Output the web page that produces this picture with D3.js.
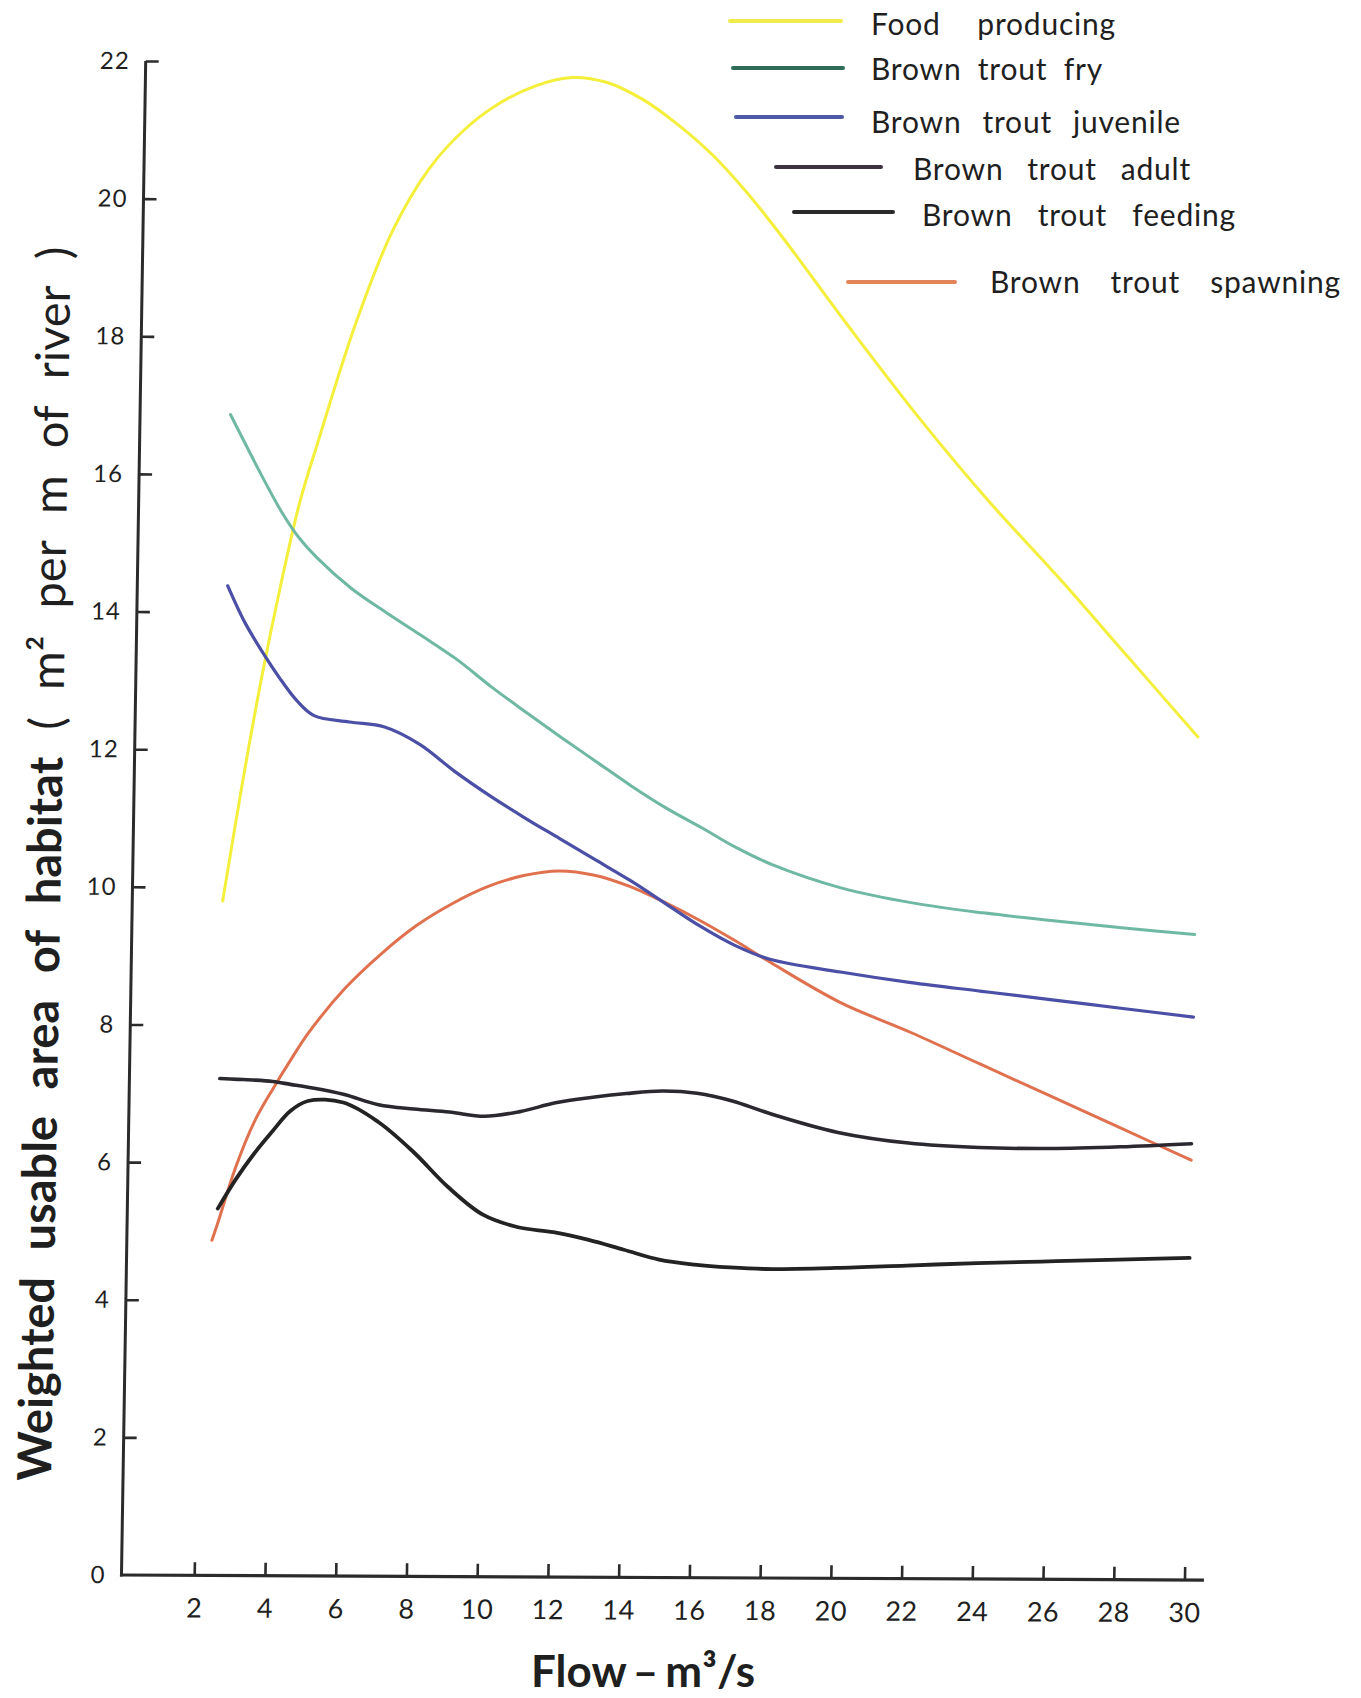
<!DOCTYPE html>
<html>
<head>
<meta charset="utf-8">
<script src="https://cdn.jsdelivr.net/npm/d3@7"></script>
<style>
  body { margin: 0; background: #fff; }
  svg text { font-family: Lato, "Open Sans", sans-serif; fill: #1f1f1f; }
</style>
</head>
<body>
<div id="chart"></div>
<script>
var flow = [2.35, 2.5, 3, 3.5, 4, 4.5, 5, 6, 7, 8, 9, 10, 11, 12, 13, 14, 15, 16, 17, 18, 20, 22, 24, 26, 28, 30];

// weighted usable area (m2 per m of river); null = curve not drawn there
var foodProducing = [null, 9.8, 11.5, 13.05, 14.4, 15.6, 16.5, 18.2, 19.55, 20.45, 21.03, 21.42, 21.67, 21.79, 21.72, 21.48, 21.12, 20.68, 20.13, 19.5, 18.15, 16.85, 15.65, 14.55, 13.4, 12.25];
var troutFry = [null, 16.87, 16.38, 15.9, 15.45, 15.08, 14.8, 14.35, 14.0, 13.67, 13.33, 12.93, 12.56, 12.2, 11.85, 11.5, 11.18, 10.9, 10.61, 10.37, 10.03, 9.82, 9.68, 9.57, 9.47, 9.38];
var troutJuvenile = [null, 14.38, 13.85, 13.43, 13.05, 12.72, 12.5, 12.41, 12.34, 12.09, 11.7, 11.35, 11.03, 10.73, 10.43, 10.13, 9.8, 9.47, 9.19, 8.99, 8.81, 8.66, 8.54, 8.42, 8.3, 8.18];
var troutAdult = [null, 7.22, 7.21, 7.2, 7.18, 7.14, 7.1, 7.0, 6.85, 6.79, 6.75, 6.69, 6.76, 6.89, 6.97, 7.03, 7.07, 7.04, 6.93, 6.76, 6.48, 6.33, 6.27, 6.26, 6.29, 6.34];
var troutFeeding = [null, 5.33, 5.76, 6.13, 6.45, 6.75, 6.9, 6.88, 6.6, 6.17, 5.66, 5.26, 5.08, 5.01, 4.9, 4.76, 4.62, 4.55, 4.51, 4.49, 4.51, 4.55, 4.59, 4.62, 4.65, 4.68];
var troutSpawning = [4.87, 5.11, 5.95, 6.6, 7.07, 7.5, 7.9, 8.54, 9.04, 9.46, 9.78, 10.03, 10.19, 10.26, 10.2, 10.04, 9.81, 9.55, 9.26, 8.95, 8.37, 7.94, 7.48, 7.02, 6.56, 6.1];

var seriesNames = ["Food producing", "Brown trout fry", "Brown trout juvenile", "Brown trout adult", "Brown trout feeding", "Brown trout spawning"];
var seriesValues = [foodProducing, troutFry, troutJuvenile, troutAdult, troutFeeding, troutSpawning];

var xTicks = [2, 4, 6, 8, 10, 12, 14, 16, 18, 20, 22, 24, 26, 28, 30];
var yTicks = [0, 2, 4, 6, 8, 10, 12, 14, 16, 18, 20, 22];

// styles
var lineColors = ["#f4ef3a", "#6fb8a3", "#4b4fa5", "#2c2830", "#232323", "#e0714f"];
var legendColors = ["#f1ec4c", "#2f6c58", "#4f5aa6", "#3d3340", "#2a2a2a", "#e2855a"];
var lineWidths = [3, 3, 3.2, 3.6, 3.8, 3];
var drawOrder = [0, 1, 5, 2, 3, 4];

// legend layout (page pixels)
var legendLineX = [[730, 841], [733, 843], [736, 842], [776, 881], [794, 893], [848, 955]];
var legendLineY = [21, 68, 117, 167, 212, 282];
var legendTextX = [871, 871, 871, 913, 922, 990];
var legendBaseline = [35, 80, 133, 180, 226, 293];
var legendWidth = [245, 232, 310, 278, 314, 351];

var W = 1361, H = 1698;
var plotW = 1063, plotH = 1514;

var svg = d3.select("#chart").append("svg")
  .attr("width", W)
  .attr("height", H);

svg.append("rect").attr("width", W).attr("height", H).attr("fill", "#fff");

// the printed frame is slightly skewed, so the plot lives in a sheared group
var g = svg.append("g")
  .attr("transform", "matrix(1, 0.0047, -0.016, 1, 145.7, 61)");

var x = d3.scaleLinear().domain([0, 30]).range([2, plotW]);
var y = d3.scaleLinear().domain([0, 22]).range([plotH, 0]);

function fitWords(sel, target) {
  sel.each(function() {
    var n = (this.textContent.match(/ /g) || []).length;
    var w = this.getComputedTextLength();
    if (n > 0) d3.select(this).style("word-spacing", ((target - w) / n) + "px");
  });
}

// axes
var yAxis = d3.axisLeft(y).tickValues(yTicks).tickSize(-13).tickPadding(16).tickSizeOuter(0);
var gy = g.append("g").call(yAxis);
gy.select(".domain").remove();
gy.selectAll(".tick").filter(function(d) { return d === 0; }).select("line").remove();
gy.selectAll(".tick line").attr("stroke", "#2b2b2b").attr("stroke-width", 2.6);
gy.selectAll(".tick text")
  .attr("fill", "#1f1f1f")
  .style("font-size", "24px")
  .style("letter-spacing", "1px");

var xAxis = d3.axisBottom(x).tickValues(xTicks).tickSize(-13).tickPadding(23).tickSizeOuter(0);
var gx = g.append("g").attr("transform", "translate(0," + plotH + ")").call(xAxis);
gx.select(".domain").remove();
gx.selectAll(".tick line").attr("stroke", "#2b2b2b").attr("stroke-width", 2.6);
gx.selectAll(".tick text")
  .attr("fill", "#1f1f1f")
  .style("font-size", "27px")
  .style("letter-spacing", "0.5px");

// axis lines
g.append("line")
  .attr("x1", 0).attr("y1", y(22))
  .attr("x2", 0).attr("y2", y(0) + 1.5)
  .attr("stroke", "#2b2b2b").attr("stroke-width", 3);
g.append("line")
  .attr("x1", -1.5).attr("y1", y(0))
  .attr("x2", x(30.55)).attr("y2", y(0))
  .attr("stroke", "#2b2b2b").attr("stroke-width", 3.2);

// y axis title
var yTitle = g.append("text")
  .attr("transform", "translate(-72," + (plotH - 94) + ") rotate(-90)")
  .style("font-size", "47px");
yTitle.append("tspan").style("font-weight", 700).text("Weighted usable area of habitat");
yTitle.append("tspan").style("font-weight", 400).text(" ( m\u00b2 per m of river )");
fitWords(yTitle, 1234);

// curves
var line = d3.line()
  .defined(function(d) { return d[1] != null; })
  .x(function(d) { return x(d[0]); })
  .y(function(d) { return y(d[1]); })
  .curve(d3.curveCatmullRom.alpha(0.5));

drawOrder.forEach(function(i) {
  var pts = flow.map(function(f, k) { return [f, seriesValues[i][k]]; });
  g.append("path")
    .datum(pts)
    .attr("d", line)
    .attr("fill", "none")
    .attr("stroke", lineColors[i])
    .attr("stroke-width", lineWidths[i])
    .attr("stroke-linecap", "round")
    .attr("stroke-linejoin", "round");
});

// x axis title
var xTitle = svg.append("text")
  .attr("x", 531)
  .attr("y", 1687)
  .style("font-size", "44px")
  .style("font-weight", 700)
  .text("Flow \u2013 m\u00b3/s");
fitWords(xTitle, 224);

// legend
var legend = svg.append("g");
seriesNames.forEach(function(name, i) {
  legend.append("line")
    .attr("x1", legendLineX[i][0]).attr("x2", legendLineX[i][1])
    .attr("y1", legendLineY[i]).attr("y2", legendLineY[i])
    .attr("stroke", legendColors[i])
    .attr("stroke-width", 4)
    .attr("stroke-linecap", "round");
  var t = legend.append("text")
    .attr("x", legendTextX[i])
    .attr("y", legendBaseline[i])
    .style("font-size", "30px")
    .style("letter-spacing", "0.8px")
    .text(name);
  fitWords(t, legendWidth[i]);
});
</script>
</body>
</html>
